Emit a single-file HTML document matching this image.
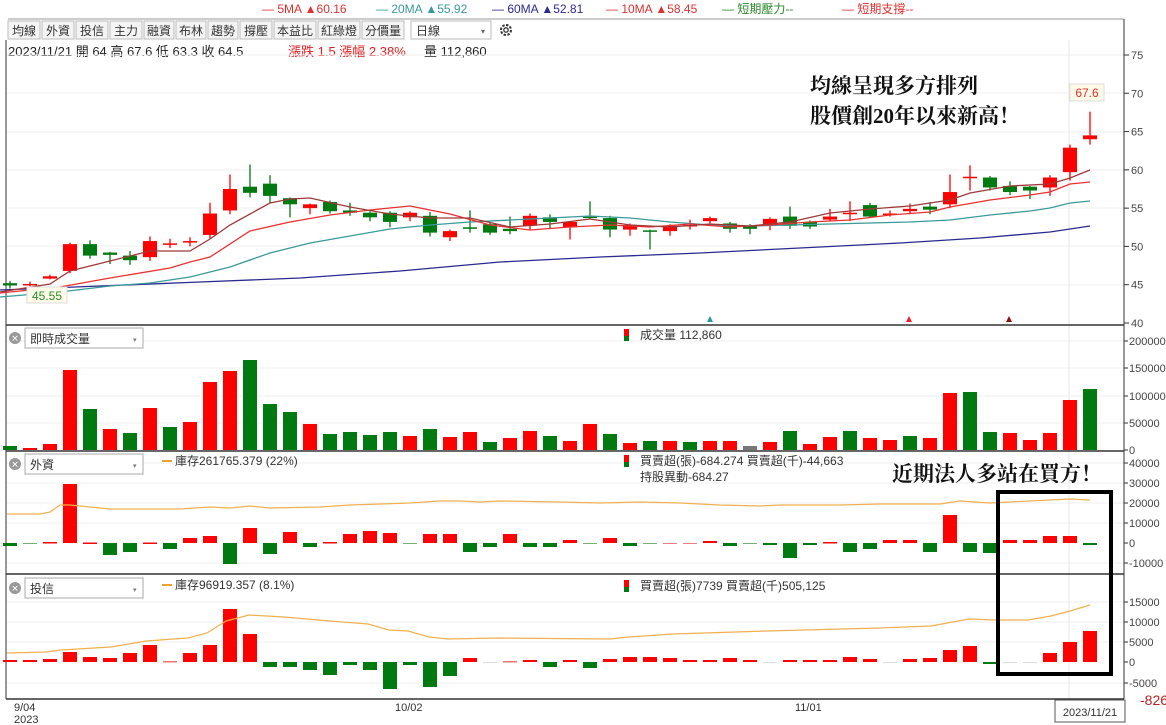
<!DOCTYPE html>
<html><head><meta charset="utf-8"><style>
html,body{margin:0;padding:0;background:#fff;width:1166px;height:725px;overflow:hidden}
svg{display:block;font-family:"Liberation Sans","Noto Sans CJK TC",sans-serif}
</style></head><body>
<svg id="s" width="1166" height="725" viewBox="0 0 1166 725" xmlns="http://www.w3.org/2000/svg">
<rect width="1166" height="725" fill="#fff"/>
<!-- top legend -->
<g font-size="12">
<text x="262" y="13" fill="#e03030">—  5MA ▲60.16</text>
<text x="376" y="13" fill="#3a9a9a">—  20MA ▲55.92</text>
<text x="492" y="13" fill="#2a2a90">—  60MA ▲52.81</text>
<text x="606" y="13" fill="#e03030">—  10MA ▲58.45</text>
<text x="722" y="13" fill="#2a8a2a">—  短期壓力--</text>
<text x="842" y="13" fill="#e03030">—  短期支撐--</text>
</g>
<line x1="8" y1="19" x2="1124" y2="19" stroke="#999"/>
<g id="tb" font-size="12" fill="#333"></g>
<text x="8" y="56" font-size="13" fill="#222">2023/11/21 開 64  高 67.6  低 63.3  收 64.5</text>
<text x="288" y="56" font-size="13" fill="#e02020">漲跌 1.5  漲幅 2.38%</text>
<text x="424" y="56" font-size="13" fill="#222">量 112,860</text>
<g id="g"></g>
</svg>
<script>
const S=document.getElementById('g');let h='';
const R='#ff0000',G='#007a10';
// toolbar
const btns=[['均線',8,40],['外資',42,74],['投信',76,108],['主力',110,142],['融資',144,174],['布林',176,206],['趨勢',208,238],['撐壓',240,272],['本益比',274,316],['紅綠燈',318,360],['分價量',362,404]];
let tb='';
btns.forEach(b=>{tb+=`<rect x="${b[1]}" y="21" width="${b[2]-b[1]}" height="18" fill="#f4f4f4" stroke="#bbb"/><text x="${(b[1]+b[2])/2}" y="35" text-anchor="middle">${b[0]}</text>`});
tb+=`<rect x="411" y="21" width="80" height="18" fill="#fff" stroke="#bbb"/><text x="416" y="35">日線</text><text x="481" y="34" font-size="8" fill="#666">▾</text>`;
tb+=`<circle cx="506" cy="30" r="5" fill="none" stroke="#333" stroke-width="2" stroke-dasharray="2.5 1.4"/><circle cx="506" cy="30" r="2.2" fill="none" stroke="#333" stroke-width="1.3"/>`;
document.getElementById('tb').innerHTML=tb;
const X=i=>10+20*i;
// panel frames
h+=`<line x1="1069" y1="40" x2="1069" y2="699" stroke="#e4e4e4"/>`;
[[55,323,[55,93,132,170,208,246,285]],[326,450,[341,368,396,423]],[452,573,[463,483,503,523,563]],[576,699,[602,622,642,683]]].forEach(p=>{p[2].forEach(y=>h+=`<line x1="7" y1="${y}" x2="1124" y2="${y}" stroke="#efefef"/>`)});
h+=`<line x1="6" y1="40" x2="6" y2="699" stroke="#333"/><line x1="1124" y1="19" x2="1124" y2="699" stroke="#333"/>`;
[325,451,574,699].forEach(y=>h+=`<line x1="6" y1="${y}" x2="1124" y2="${y}" stroke="#333" stroke-width="1.5"/>`);
// price axis
const yp=p=>55+(75-p)*7.657;
[75,70,65,60,55,50,45,40].forEach(v=>{const y=yp(v);h+=`<line x1="1124" y1="${y}" x2="1129" y2="${y}" stroke="#333"/><text x="1131" y="${y+4}" font-size="11" fill="#444">${v}</text>`});
// candles o,c,h,l
const C=[[45.2,44.9,45.5,44.5],[45.0,45.1,45.4,44.8],[45.8,46.1,46.3,45.7],[46.8,50.3,50.5,46.5],[50.3,48.8,50.8,48.4],[49.2,48.9,49.3,47.7],[48.8,48.2,49.4,47.6],[48.6,50.7,51.3,48.1],[50.4,50.4,51.0,49.8],[50.6,50.7,51.2,50.0],[51.5,54.3,55.7,51.0],[54.7,57.5,59.4,54.2],[57.8,57.0,60.7,56.4],[58.2,56.6,59.3,55.6],[56.3,55.5,56.4,53.8],[55.0,55.5,55.6,54.2],[55.8,54.6,56.0,54.3],[54.7,54.4,55.7,54.0],[54.4,53.8,54.6,53.3],[54.4,53.2,54.6,52.5],[53.8,54.4,54.6,53.3],[54.0,51.8,54.5,51.3],[51.2,52.0,52.2,50.7],[52.5,52.3,54.7,51.8],[52.9,51.8,53.2,51.5],[52.3,52.0,53.9,51.6],[52.7,54.0,54.3,52.1],[53.8,53.2,54.2,52.4],[52.5,53.2,53.3,50.9],[53.9,53.8,55.9,53.6],[53.7,52.2,54.0,51.2],[52.2,52.8,53.0,51.4],[52.1,52.0,52.2,49.6],[52.0,52.7,52.9,51.4],[52.8,52.8,53.5,52.2],[53.3,53.7,53.9,53.0],[53.0,52.3,53.2,51.8],[52.6,52.3,52.9,51.6],[52.7,53.6,53.8,52.1],[53.9,52.7,55.2,52.3],[53.2,52.6,53.4,52.3],[53.5,53.9,54.9,53.3],[54.3,54.4,55.9,53.3],[55.4,53.9,55.7,53.8],[54.2,54.3,54.7,53.9],[54.6,54.9,55.6,54.2],[55.2,54.8,55.8,54.2],[55.5,57.1,59.4,55.0],[59.0,59.1,60.6,57.3],[59.0,57.7,59.2,57.3],[57.9,57.1,58.5,56.7],[57.8,57.3,57.9,56.2],[57.7,59.0,59.3,56.6],[59.7,62.9,63.3,58.6],[64.0,64.5,67.6,63.3]];
C.forEach((c,i)=>{const x=X(i),col=c[1]>=c[0]?R:G;const t=yp(Math.max(c[0],c[1])),b=yp(Math.min(c[0],c[1]));
h+=`<line x1="${x}" y1="${yp(c[2])}" x2="${x}" y2="${yp(c[3])}" stroke="${col}" stroke-width="1.3"/><rect x="${x-7}" y="${t}" width="14" height="${Math.max(b-t,1.5)}" fill="${col}"/>`});
const pl=(pts,col,w)=>`<polyline points="${pts.map(p=>p.join(',')).join(' ')}" fill="none" stroke="${col}" stroke-width="${w||1.3}"/>`;
h+=pl([[0,290],[100,286],[200,282],[300,278],[400,271],[500,262],[600,257],[700,253],[800,248],[900,243],[980,238],[1050,232],[1090,226]],'#2a2a90');
h+=pl([[0,297],[60,292],[110,286],[150,283],[190,277],[230,267],[270,253],[310,243],[350,236],[390,229],[430,225],[470,222],[510,220],[550,218],[590,216],[630,218],[670,222],[710,225],[750,226],[790,225],[830,224],[870,223],[910,222],[950,220],[990,215],[1030,211],[1050,208],[1070,203],[1090,201]],'#3a9a9a');
h+=pl([[0,293],[60,287],[110,278],[170,268],[190,262],[210,257],[250,231],[290,222],[330,215],[370,210],[410,206],[450,214],[490,225],[530,230],[570,227],[610,225],[650,227],[690,224],[730,227],[770,225],[810,222],[850,220],[890,215],[930,212],[950,207],[990,200],[1030,195],[1050,192],[1070,184],[1090,182]],'#e83030');
h+=pl([[0,292],[50,284],[70,271],[110,261],[150,251],[190,251],[210,239],[230,225],[270,203],[290,199],[310,198],[350,207],[390,214],[430,218],[470,218],[510,227],[550,224],[590,219],[630,225],[670,227],[710,224],[750,226],[790,222],[830,213],[870,209],[910,206],[950,200],[970,193],[1010,186],[1050,184],[1070,178],[1090,170]],'#a03838');
h+=`<rect x="1070" y="84" width="34" height="17" fill="#fffbe8" stroke="#ddd"/><text x="1087" y="97" font-size="12" fill="#e03030" text-anchor="middle">67.6</text>`;
h+=`<rect x="27" y="287" width="40" height="16" fill="#fffbe8" stroke="#ddd"/><text x="47" y="300" font-size="12" fill="#2a8a2a" text-anchor="middle">45.55</text>`;
h+=`<polygon points="707,322 713,322 710,316" fill="#2a9a9a"/><polygon points="906,322 912,322 909,316" fill="#ee2020"/><polygon points="1006,322 1012,322 1009,316" fill="#8a1010"/>`;
h+=`<g font-family="'Liberation Serif','Noto Serif CJK SC',serif" font-weight="bold" font-size="21" fill="#111"><text x="810" y="93">均線呈現多方排列</text><text x="810" y="123">股價創20年以來新高！</text><text x="892" y="481">近期法人多站在買方！</text></g>`;
// panel headers
const hdr=(y,t)=>`<circle cx="15" cy="${y+10}" r="6" fill="#999"/><text x="15" y="${y+13.5}" font-size="9" fill="#fff" text-anchor="middle">✕</text><rect x="25" y="${y}" width="118" height="20" fill="#fff" stroke="#aaa"/><text x="30" y="${y+15}" font-size="12" fill="#333">${t}</text><text x="133" y="${y+14}" font-size="7" fill="#777">▾</text>`;
h+=hdr(328,'即時成交量')+hdr(454,'外資')+hdr(578,'投信');
const icon=(x,y)=>`<rect x="${x}" y="${y}" width="5" height="7" fill="${R}"/><rect x="${x}" y="${y+7}" width="5" height="5" fill="${G}"/>`;
h+=icon(624,329)+`<text x="640" y="339" font-size="12" fill="#333">成交量  112,860</text>`;
h+=`<line x1="162" y1="461" x2="172" y2="461" stroke="#f0a030" stroke-width="2"/><text x="175" y="465" font-size="12" fill="#333">庫存261765.379 (22%)</text>`;
h+=icon(624,455)+`<text x="640" y="465" font-size="12" fill="#333">買賣超(張)-684.274 買賣超(千)-44,663</text><text x="640" y="481" font-size="12" fill="#333">持股異動-684.27</text>`;
h+=`<line x1="162" y1="585" x2="172" y2="585" stroke="#f0a030" stroke-width="2"/><text x="175" y="589" font-size="12" fill="#333">庫存96919.357 (8.1%)</text>`;
h+=icon(624,580)+`<text x="640" y="590" font-size="12" fill="#333">買賣超(張)7739 買賣超(千)505,125</text>`;
// axis labels
const al=(v,y,c)=>`<line x1="1124" y1="${y}" x2="1128" y2="${y}" stroke="#333"/><text x="1129" y="${y+4}" font-size="11" fill="${c||'#444'}">${v}</text>`;
[[200000,341],[150000,368],[100000,396],[50000,423],[0,450]].forEach(a=>h+=al(a[0],a[1]));
[[40000,463],[30000,483],[20000,503],[10000,523],[0,543],[-10000,563]].forEach(a=>h+=al(a[0],a[1]));
[[15000,602],[10000,622],[5000,642],[0,662],[-5000,683]].forEach(a=>h+=al(a[0],a[1]));
h+=`<text x="1140" y="705" font-size="14" fill="#c02020">-8264</text>`;
// volume
const VT=[446,448,444,370,409,429,433,408,427,422,382,371,360,404,412,424,434,432,435,432,436,429,437,432,442,438,431,436,441,424,434,443,441,441,442,441,441,446,442,431,444,437,431,438,440,436,438,393,392,432,433,440,433,400,389];
const VC='grrrgrgrgrrrgggrggggrgrrgrrgrrgrgrgrrgrgrrgrrgrrggrrrr';
VT.forEach((t,i)=>{let col=VC[i]=='r'?R:G;if(i==37)col='#777';h+=`<rect x="${X(i)-7}" y="${t}" width="14" height="${450-t}" fill="${col}"/>`});
// foreign bars (y values: top for pos, bottom for neg); 0 = flat
const FB=[546,0,542,484,542.5,555,552,542.5,549,538,536,564,528,554,532,547,542,534,531,533,0,534,534,552,547,534,547,547,540,0,538,546,0,0,0,541,546,0,545,558,545,542,552,549,540,540,552,515,552,553,540,540,536,536,545];
const FC='grrrrggrgrrgrgrgrrrgrrggrggrggrggrgrgggggrggrrgrggrrrrg';
const FC2=['g','g','r','r','r','g','g','r','g','r','r','g','r','g','r','g','r','r','r','r','g','r','r','g','g','r','g','g','r','g','r','g','g','r','r','r','g','g','g','g','g','r','g','g','r','r','g','r','g','g','r','r','r','r','g'];
FB.forEach((v,i)=>{const col=FC2[i]=='r'?R:G;const x=X(i)-7;if(v==0){h+=`<rect x="${x}" y="543" width="14" height="1" fill="${col=='#ff0000'?'#f08080':'#70b070'}"/>`}else{const t=Math.min(v,543),b=Math.max(v,543);h+=`<rect x="${x}" y="${t}" width="14" height="${Math.max(b-t,1.5)}" fill="${col}"/>`}});
h+=pl([[7,514],[40,514],[50,512],[60,505],[70,505],[90,507],[110,509],[180,509],[210,507],[230,508],[250,506],[270,508],[320,507],[350,505],[380,504],[410,503],[440,501],[460,501],[480,502],[500,501],[560,502],[600,503],[640,502],[680,503],[720,505],[760,506],[780,505],[840,505],[880,504],[940,504],[960,501],[990,503],[1010,502],[1050,500],[1070,499],[1090,500]],'#f0b050',1.2);
// 投信
const TB=[660,660,659,652,657,658,653,645,661,653,645,609,634,667,667,670,675,665,670,689,665,687,676,658,0,661,660,667,660,668,659,657,657,658,660,660,658,660,0,660,660,660,657,659,0,659,658,650,646,664,0,0,653,642,631];
const TC='rrrrrrrrrrrrrggggggggggrgrrgrgrrrrrrrrrrrrrrrrrrrgggrrr';
TB.forEach((v,i)=>{const x=X(i)-7;let col=TC[i]=='r'?R:G;if(i==8||i==25)col='#f07070';if(v==0){h+=`<rect x="${x}" y="662" width="14" height="1" fill="#ddd"/>`}else{const t=Math.min(v,662),b=Math.max(v,662);h+=`<rect x="${x}" y="${t}" width="14" height="${Math.max(b-t,1.5)}" fill="${col}"/>`}});
h+=pl([[7,653],[46,652],[61,650],[111,647],[146,641],[188,638],[207,633],[226,621],[249,615],[284,617],[330,621],[368,624],[389,630],[408,631],[429,637],[448,639],[498,638],[610,639],[629,637],[673,634],[767,631],[879,628],[931,626],[969,619],[995,620],[1028,620],[1051,616],[1070,611],[1090,605]],'#f0b050',1.2);
// black box
h+=`<rect x="998" y="492" width="113" height="182" fill="none" stroke="#000" stroke-width="4"/>`;
// x axis
h+=`<g font-size="11" fill="#333"><text x="14" y="711">9/04</text><text x="14" y="723">2023</text><text x="395" y="711">10/02</text><text x="795" y="711">11/01</text></g>`;
h+=`<rect x="1055" y="700" width="70" height="22" fill="#fff" stroke="#555"/><text x="1090" y="716" font-size="11" fill="#333" text-anchor="middle">2023/11/21</text>`;
S.innerHTML=h;
</script>
</body></html>
